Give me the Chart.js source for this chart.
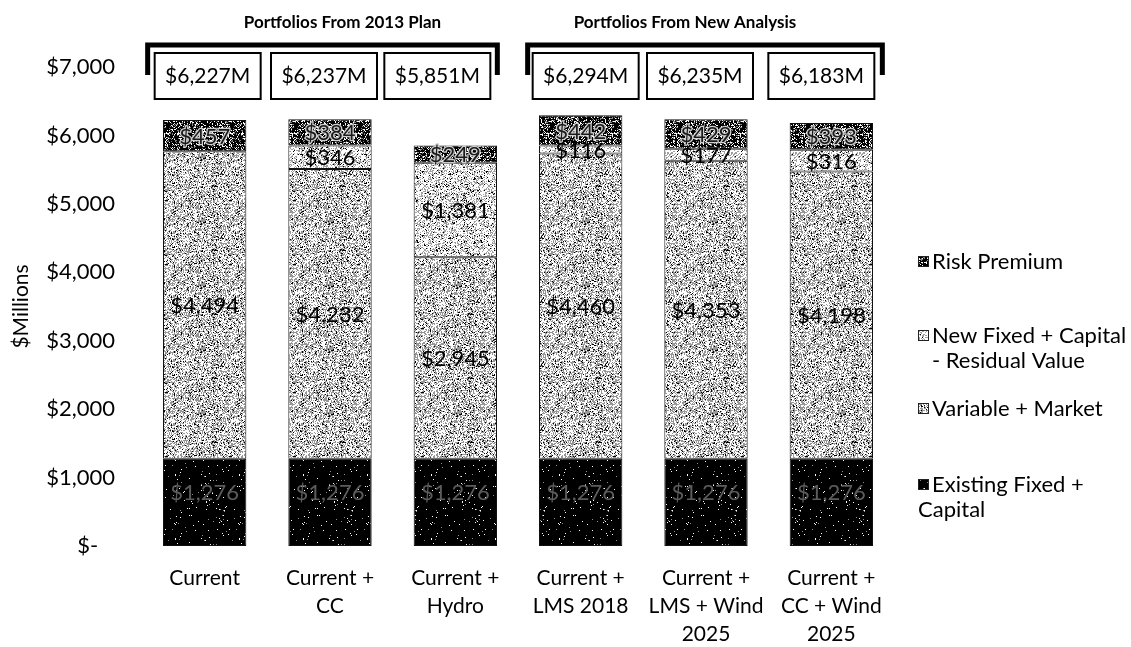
<!DOCTYPE html>
<html>
<head>
<meta charset="utf-8">
<script src="https://cdn.jsdelivr.net/npm/chart.js@4"></script>
<style>
  html, body { margin: 0; padding: 0; background: #fff; }
  #wrap { width: 1131px; height: 647px; }
</style>
</head>
<body>
<div id="wrap"><canvas id="c" width="1131" height="647"></canvas></div>
<script>
// Portfolio cost components, $ millions
const categories = [
  ['Current'],
  ['Current +', 'CC'],
  ['Current +', 'Hydro'],
  ['Current +', 'LMS 2018'],
  ['Current +', 'LMS + Wind', '2025'],
  ['Current +', 'CC + Wind', '2025']
];
const existingFixed  = [1276, 1276, 1276, 1276, 1276, 1276];
const variableMarket = [4494, 4232, 2945, 4460, 4353, 4198];
const newFixed       = [0, 346, 1381, 116, 177, 316];
const riskPremium    = [457, 384, 249, 442, 429, 393];
const totals         = [6227, 6237, 5851, 6294, 6235, 6183];
const groupTitles    = ['Portfolios From 2013 Plan', 'Portfolios From New Analysis'];
const yTicks         = [0, 1000, 2000, 3000, 4000, 5000, 6000, 7000];

const FONT = 'Lato, "Noto Sans", sans-serif';

// Stippled fills that imitate a photocopied halftone
function hash(x, y, s) {
  let h = Math.imul(x + 1, 374761393) ^ Math.imul(y + 7, 668265263) ^ Math.imul(s + 3, 1274126177);
  h = Math.imul(h ^ (h >>> 13), 1274126177);
  h ^= h >>> 16;
  return (h >>> 0) / 4294967296;
}
function stipple(seed, pBlack, pGray, grayLevel) {
  const size = 64;
  const cv = document.createElement('canvas');
  cv.width = size; cv.height = size;
  const g = cv.getContext('2d');
  const img = g.createImageData(size, size);
  for (let y = 0; y < size; y++) {
    for (let x = 0; x < size; x++) {
      const r = hash(x, y, seed);
      let v = 255;
      if (r < pBlack) v = 0;
      else if (r < pBlack + pGray) v = grayLevel;
      const k = (y * size + x) * 4;
      img.data[k] = img.data[k + 1] = img.data[k + 2] = v;
      img.data[k + 3] = 255;
    }
  }
  g.putImageData(img, 0, 0);
  return g.createPattern(cv, 'repeat');
}
const ctx = document.getElementById('c').getContext('2d');
const fills = {
  existing: stipple(11, 0.975, 0.01, 140),
  variable: stipple(23, 0.10, 0.42, 150),
  newFixed: stipple(37, 0.08, 0.34, 160),
  risk:     stipple(51, 0.66, 0.16, 130)
};

const datasets = [
  { label: 'Existing Fixed + Capital', data: existingFixed, backgroundColor: fills.existing, textColor: '#5c5c5c', labelLift: 10, legendLines: ['Existing Fixed +', 'Capital'] },
  { label: 'Variable + Market', data: variableMarket, backgroundColor: fills.variable, textColor: '#000', labelLift: 0, legendLines: ['Variable + Market'] },
  { label: 'New Fixed + Capital - Residual Value', data: newFixed, backgroundColor: fills.newFixed, textColor: '#000', labelLift: 0, legendLines: ['New Fixed + Capital', '- Residual Value'] },
  { label: 'Risk Premium', data: riskPremium, backgroundColor: fills.risk, textColor: '#1a1a1a', labelLift: 0, halo: '#cfcfcf', legendLines: ['Risk Premium'] }
].map(d => Object.assign(d, {
  borderColor: '#111',
  borderWidth: c => (c.raw ? 1 : 0),
  borderSkipped: false,
  barPercentage: 0.665,
  categoryPercentage: 1
}));

const money = v => '$' + v.toLocaleString('en-US');

// Values written inside each stacked segment
const segmentLabels = {
  id: 'segmentLabels',
  afterDatasetsDraw(chart) {
    const g = chart.ctx;
    g.save();
    g.font = '22px ' + FONT;
    g.textAlign = 'center';
    g.textBaseline = 'middle';
    chart.data.datasets.forEach((ds, di) => {
      chart.getDatasetMeta(di).data.forEach((bar, i) => {
        const v = ds.data[i];
        if (!v) return;
        const y = (bar.y + bar.base) / 2 + 1 - ds.labelLift;
        if (ds.halo) {
          g.lineWidth = 2.5;
          g.strokeStyle = ds.halo;
          g.strokeText(money(v), bar.x, y);
        }
        g.fillStyle = ds.textColor;
        g.fillText(money(v), bar.x, y);
      });
    });
    g.restore();
  }
};

// Total boxes, group brackets, group titles and the legend
const annotations = {
  id: 'annotations',
  afterDraw(chart) {
    const g = chart.ctx;
    const xs = chart.scales.x, ys = chart.scales.y;
    const yTop = ys.getPixelForValue(7000);
    const boxShift = [3, -6, -18, 5, -6, -10];
    const boxW = 106, boxH = 46;
    const boxes = totals.map((t, i) => {
      const cx = xs.getPixelForValue(i) + boxShift[i];
      return { cx, left: cx - boxW / 2, right: cx + boxW / 2, top: yTop - 14, t };
    });
    g.save();
    g.lineWidth = 2;
    g.strokeStyle = '#000';
    g.fillStyle = '#000';
    g.font = '21px ' + FONT;
    g.textAlign = 'center';
    g.textBaseline = 'middle';
    boxes.forEach(b => {
      g.fillStyle = '#fff';
      g.fillRect(b.left, b.top, boxW, boxH);
      g.strokeRect(b.left, b.top, boxW, boxH);
      g.fillStyle = '#000';
      g.fillText(money(b.t) + 'M', b.cx, b.top + boxH / 2);
    });

    // brackets over each group of three portfolios
    const groups = [[0, 2, -7, 7, 20], [3, 5, -5, 8, -20]];
    g.lineWidth = 5;
    g.lineCap = 'butt';
    groups.forEach((gr, k) => {
      const x1 = boxes[gr[0]].left + gr[2];
      const x2 = boxes[gr[1]].right + gr[3];
      const yb = yTop - 22;
      g.beginPath();
      g.moveTo(x1, yTop + 8);
      g.lineTo(x1, yb);
      g.lineTo(x2, yb);
      g.lineTo(x2, yTop + 8);
      g.stroke();
      g.font = 'bold 17px ' + FONT;
      g.fillText(groupTitles[k], (x1 + x2) / 2 + gr[4], yTop - 44);
    });

    // legend, top series first
    const lx = 918;
    const rows = [
      { ds: 3, y: 262 },
      { ds: 2, y: 336 },
      { ds: 1, y: 409 },
      { ds: 0, y: 485 }
    ];
    g.font = '22px ' + FONT;
    g.textAlign = 'left';
    rows.forEach(r => {
      const ds = chart.data.datasets[r.ds];
      g.fillStyle = ds.backgroundColor;
      g.fillRect(lx, r.y - 6, 11, 11);
      g.lineWidth = 1;
      g.strokeStyle = '#222';
      g.strokeRect(lx + 0.5, r.y - 5.5, 10, 10);
      g.fillStyle = '#000';
      ds.legendLines.forEach((t, j) => {
        g.fillText(t, j === 0 ? lx + 14 : (r.ds === 2 ? lx + 14 : lx), r.y + j * 25);
      });
    });
    g.restore();
  }
};

new Chart(ctx, {
  type: 'bar',
  data: { labels: categories, datasets },
  options: {
    responsive: false,
    animation: false,
    devicePixelRatio: 1,
    layout: { padding: { top: 67, right: 237, left: 0, bottom: 0 } },
    plugins: { legend: { display: false }, tooltip: { enabled: false } },
    scales: {
      x: {
        stacked: true,
        grid: { display: false, drawTicks: false },
        border: { display: false },
        ticks: {
          color: '#000',
          font: { family: FONT, size: 21, lineHeight: 1.33 },
          padding: 18,
          maxRotation: 0,
          autoSkip: false
        },
        afterFit: s => { s.height = 101; }
      },
      y: {
        stacked: true,
        min: 0,
        max: 7000,
        afterBuildTicks: s => { s.ticks = yTicks.map(v => ({ value: v })); },
        grid: { display: false, drawTicks: false },
        border: { display: false },
        ticks: {
          color: '#000',
          font: { family: FONT, size: 22 },
          padding: 27,
          callback: v => (v === 0 ? '$-   ' : money(v))
        },
        title: {
          display: true,
          text: '$Millions',
          color: '#000',
          font: { family: FONT, size: 21 },
          padding: { top: 9, bottom: 0 }
        },
        afterFit: s => { s.width = 142; }
      }
    }
  },
  plugins: [segmentLabels, annotations]
});
</script>
</body>
</html>
